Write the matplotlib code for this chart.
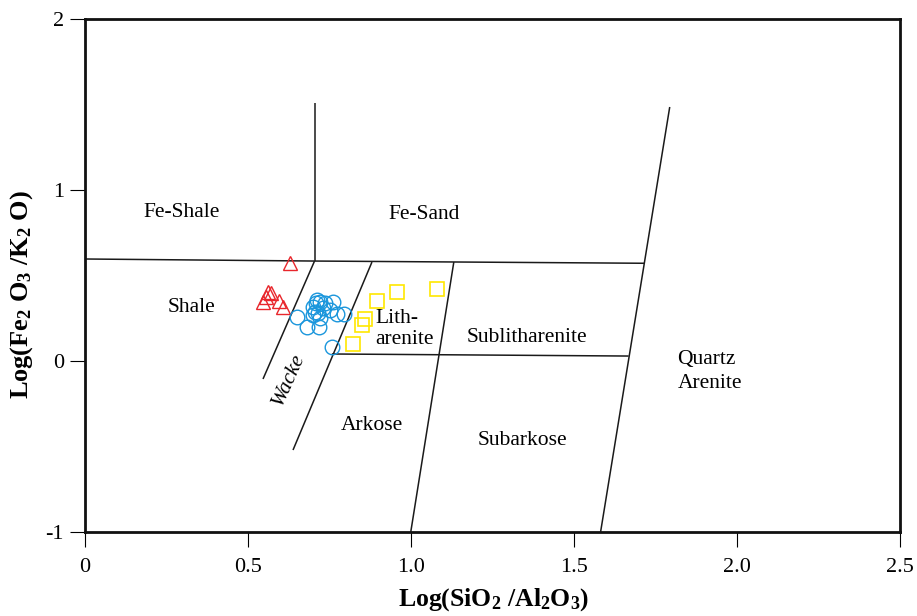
import matplotlib
matplotlib.use("Agg")
import matplotlib.pyplot as plt

# Muestras (log SiO2/Al2O3, log Fe2O3/K2O)
tri_x = [0.630, 0.562, 0.571, 0.547, 0.596, 0.608, 0.556]
tri_y = [0.572, 0.402, 0.396, 0.344, 0.350, 0.315, 0.373]

circ_x = [0.651, 0.682, 0.719, 0.700, 0.709, 0.721, 0.737, 0.762, 0.706,
          0.716, 0.731, 0.752, 0.773, 0.795, 0.700, 0.721, 0.758, 0.712]
circ_y = [0.256, 0.198, 0.198, 0.315, 0.338, 0.344, 0.338, 0.344, 0.286,
          0.280, 0.309, 0.297, 0.274, 0.274, 0.268, 0.250, 0.081, 0.356]

sq_x = [0.896, 0.958, 1.080, 0.860, 0.850, 0.823]
sq_y = [0.350, 0.402, 0.420, 0.244, 0.209, 0.098]

# Limites del diagrama de clasificacion (Herron, 1988)
limites = [
    ([0.000, 0.705], [0.595, 0.583]),   # Fe-Shale / Shale
    ([0.705, 0.705], [1.506, 0.583]),   # Fe-Shale / Fe-Sand
    ([0.705, 1.716], [0.583, 0.570]),   # Fe-Sand / arenitas
    ([0.705, 0.547], [0.583, -0.106]),  # Shale / Wacke
    ([0.881, 0.639], [0.577, -0.521]),  # Wacke / Litharenite-Arkose
    ([1.132, 1.000], [0.577, -1.000]),  # Litharenite / Sublitharenite
    ([1.794, 1.582], [1.483, -1.000]),  # Quartz arenite
    ([0.758, 1.668], [0.040, 0.028]),   # lito / arcosa
]

x_ticks = [0, 0.5, 1.0, 1.5, 2.0, 2.5]
x_tick_labels = ['0', '0.5', '1.0', '1.5', '2.0', '2.5']
y_ticks = [-1, 0, 1, 2]
y_tick_labels = ['-1', '0', '1', '2']

plt.rcParams['font.family'] = ['Liberation Serif', 'DejaVu Serif']
plt.rcParams['mathtext.fontset'] = 'custom'
plt.rcParams['mathtext.rm'] = 'Liberation Serif'
plt.rcParams['mathtext.bf'] = 'Liberation Serif:bold'
plt.rcParams['mathtext.it'] = 'Liberation Serif:italic'

W, H = 917, 616
fig = plt.figure(figsize=(W / 100, H / 100), dpi=100)
# caja del grafico en pixeles: x 84.6..900, y 18.5..532
ax = fig.add_axes([84.6 / W, 1 - 532 / H, (900 - 84.6) / W, (532 - 18.5) / H])
ax.set_xlim(0, 2.5)
ax.set_ylim(-1, 2)

for xs, ys in limites:
    ax.plot(xs, ys, color='#1a1a1a', lw=1.1, solid_capstyle='butt', zorder=2)

ax.plot(tri_x, tri_y, ls='none', marker='^', ms=10, mfc='none',
        mec='#e8262c', mew=1.0, zorder=3)
ax.plot(circ_x, circ_y, ls='none', marker='o', ms=10.5, mfc='none',
        mec='#1a96dc', mew=1.0, zorder=3)
ax.plot(sq_x, sq_y, ls='none', marker='s', ms=9.4, mfc='none',
        mec='#ffe800', mew=1.2, zorder=3)

# Nombres de los campos
fs = 15.5
ax.text(0.180, 0.842, 'Fe-Shale', fontsize=fs, va='baseline')
ax.text(0.933, 0.827, 'Fe-Sand', fontsize=fs, va='baseline')
ax.text(0.256, 0.287, 'Shale', fontsize=fs, va='baseline')
ax.text(0.892, 0.221, 'Lith-', fontsize=fs, va='baseline')
ax.text(0.892, 0.098, 'arenite', fontsize=fs, va='baseline')
ax.text(1.172, 0.112, 'Sublitharenite', fontsize=fs, va='baseline')
ax.text(1.818, -0.018, 'Quartz', fontsize=fs, va='baseline')
ax.text(1.818, -0.160, 'Arenite', fontsize=fs, va='baseline')
ax.text(0.786, -0.404, 'Arkose', fontsize=fs, va='baseline')
ax.text(1.204, -0.492, 'Subarkose', fontsize=fs, va='baseline')
ax.text(0.626, -0.112, 'Wacke', fontsize=fs, style='italic',
        ha='center', va='center', rotation=66, rotation_mode='anchor')

ax.set_xticks(x_ticks)
ax.set_xticklabels(x_tick_labels)
ax.set_yticks(y_ticks)
ax.set_yticklabels(y_tick_labels)
ax.tick_params(axis='both', direction='out', length=11, width=0.8,
               labelsize=16, top=False, right=False)
ax.tick_params(axis='x', pad=8)
ax.tick_params(axis='y', pad=4)
for sp in ax.spines.values():
    sp.set_linewidth(2.0)
    sp.set_color('#111111')

fig.text(494 / W, 1 - 600 / H, r'Log(SiO$_\mathbf{2}$ /Al$_\mathbf{2}$O$_\mathbf{3}$)',
         fontsize=18.5, fontweight='bold', ha='center', va='center')
fig.text(22 / W, 1 - 295 / H, r'Log(Fe$_\mathbf{2}$ O$_\mathbf{3}$ /K$_\mathbf{2}$ O)',
         fontsize=19, fontweight='bold', ha='center', va='center', rotation=90)

fig.savefig('out.png', dpi=100)
